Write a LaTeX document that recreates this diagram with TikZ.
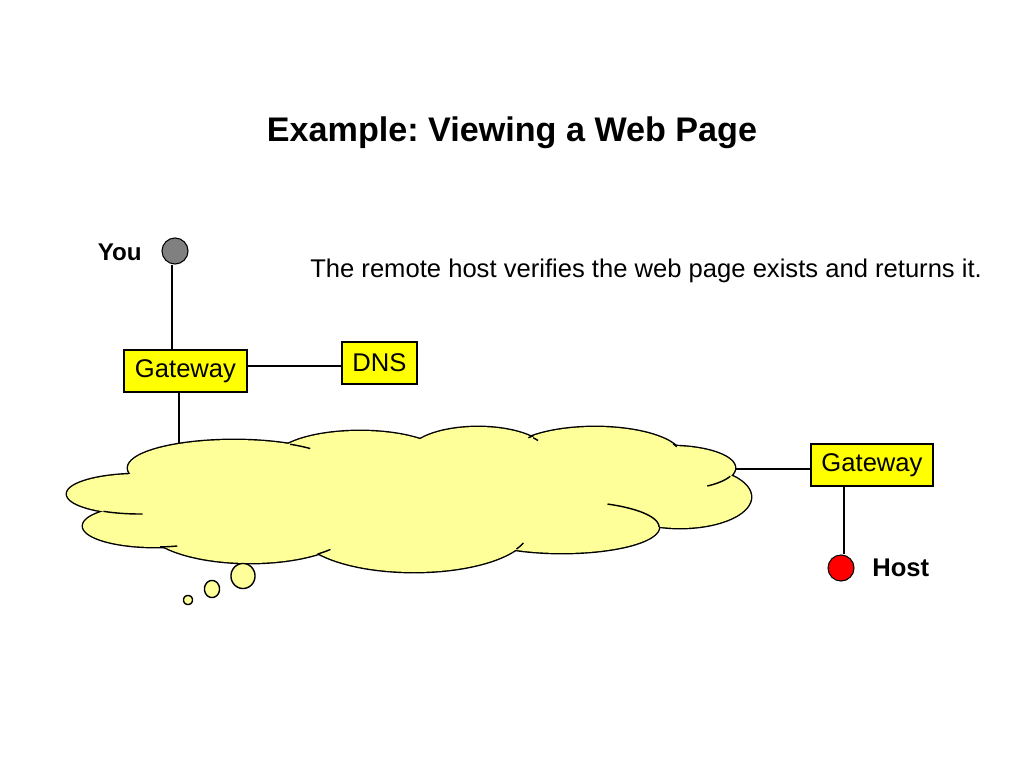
\documentclass[tikz,border=0pt]{standalone}
\usepackage{fontspec}
\setmainfont{Liberation Sans}
\frenchspacing
\definecolor{boxyellow}{HTML}{FFFF00}
\definecolor{cloudcol}{HTML}{FFFF99}
\definecolor{youcol}{HTML}{808080}
\tikzset{
  box/.style={draw, line width=0.75pt, fill=boxyellow, minimum height=29.5pt, inner sep=0pt, font=\fontsize{18}{21}\selectfont},
  dot/.style={circle, draw, line width=0.75pt, minimum size=18.3pt, inner sep=0pt},
  link/.style={line width=0.75pt},
  lbl/.style={inner sep=0pt, font=\bfseries\fontsize{18}{21}\selectfont},
  frag/.style={line width=1pt}
}
\begin{document}
\begin{tikzpicture}[x=0.703125pt, y=-0.703125pt]
\useasboundingbox (0,0) rectangle (1024,768);
\fill[white] (0,0) rectangle (1024,768);

\node[font=\bfseries\fontsize{24}{29}\selectfont] (title) at (512,133) {Example: Viewing a Web Page};
\node[anchor=west, inner sep=0pt, font=\fontsize{18}{22}\selectfont] (msg) at (310,271) {The remote host verifies the web page exists and returns it.};

\node[dot, fill=youcol] (you) at (175,251) {};
\node[lbl, anchor=east, font=\bfseries\fontsize{17}{20}\selectfont] (youlbl) at (142,252) {You};
\node[box, minimum width=86.5pt] (gw1) at (185.5,371) {Gateway};
\node[box, minimum width=52.7pt] (dns) at (379.5,363) {DNS};
\node[box, minimum width=85.8pt] (gw2) at (872,465) {Gateway};
\node[dot, fill=red] (host) at (841,568) {};
\node[lbl, anchor=west] (hostlbl) at (872,568) {Host};

\coordinate (ctop) at (179,444);
\coordinate (cright) at (735,469);
\coordinate (dnsy) at (0,366);
\coordinate (youx) at (172,0);
\coordinate (hostx) at (844,0);

\draw[link] (youx |- you.south) -- (youx |- gw1.north);
\draw[link] (gw1.east |- dnsy) -- (dns.west |- dnsy);
\draw[link] (gw1.south -| ctop) -- (ctop);
\draw[link] (cright) -- (cright -| gw2.west);
\draw[link] (hostx |- gw2.south) -- (hostx |- host.north);

% cloud
\foreach \cx/\cy/\rx/\ry in {234/468/106/28, 140/494/73/20, 155/526/72/21, 250/525/105/38, 414/530/115/42, 562/527/97/26, 680/497/71/31, 670/468/65/22, 595/457/87/30, 478/455/70/28, 360/460/86/29}
  \draw[line width=2pt, fill=cloudcol] plot[domain=0:355, samples=72, smooth cycle] ({\cx+\rx*cos(\x)},{\cy+\ry*sin(\x)});
\foreach \cx/\cy/\rx/\ry in {234/468/106/28, 140/494/73/20, 155/526/72/21, 250/525/105/38, 414/530/115/42, 562/527/97/26, 680/497/71/31, 670/468/65/22, 595/457/87/30, 478/455/70/28, 360/460/86/29}
  \fill[cloudcol] plot[domain=0:355, samples=72, smooth cycle] ({\cx+\rx*cos(\x)},{\cy+\ry*sin(\x)});
\fill[cloudcol] (234,468) -- (360,460) -- (478,455) -- (595,457) -- (670,468) -- (680,497) -- (562,527) -- (414,530) -- (250,525) -- (155,526) -- (140,494) -- cycle;
\foreach \cx/\cy/\rx/\ry/\a/\b in {234/468/106/28/-58/-44, 478/455/70/28/-38/-31, 595/457/87/30/-140/-135, 595/457/87/30/-26/-20, 670/468/65/22/22/55, 562/527/97/26/-62/0, 414/530/115/42/18/27, 250/525/105/38/40/50, 155/526/72/21/72/86, 140/494/73/20/88/120}
  \draw[frag] plot[domain=\a:\b, samples=20, smooth] ({\cx+\rx*cos(\x)},{\cy+\ry*sin(\x)});

% thought bubbles
\draw[line width=1pt, fill=cloudcol] plot[domain=0:355, samples=72, smooth cycle] ({243+12*cos(\x)},{576+12.5*sin(\x)});
\draw[line width=1pt, fill=cloudcol] plot[domain=0:355, samples=72, smooth cycle] ({212+7.5*cos(\x)},{589+8.5*sin(\x)});
\draw[line width=1pt, fill=cloudcol] plot[domain=0:355, samples=72, smooth cycle] ({188+4.5*cos(\x)},{600+4.5*sin(\x)});
\end{tikzpicture}
\end{document}
